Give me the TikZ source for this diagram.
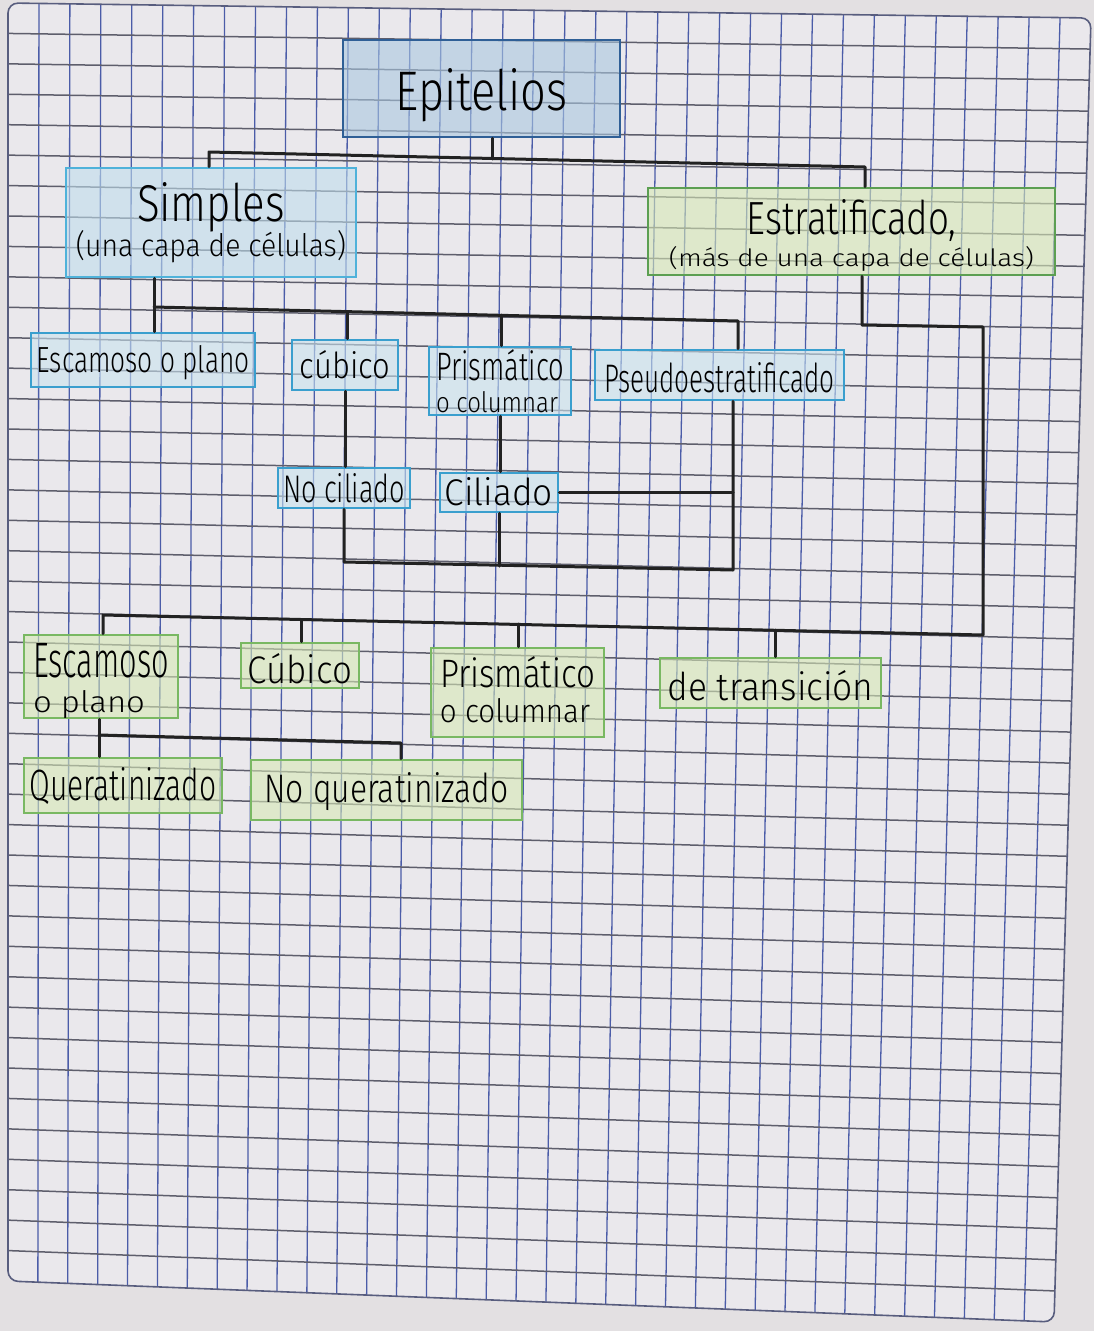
\documentclass[tikz,border=0pt]{standalone}
\usepackage{fontspec}
\usepackage{graphicx}
\usetikzlibrary{calc}
\IfFontExistsTF{Fira Sans Light}{\newfontfamily\handf{Fira Sans Light}}{\newfontfamily\handf{Fira Sans}}
\newcommand\hw[3]{\resizebox{#1pt}{#2pt}{\handf #3}}
\newcommand\onel[2]{\raisebox{-#1pt}[0pt][0pt]{#2}}
\newcommand\twol[4]{\raisebox{-#1pt}[0pt][0pt]{\vbox{\baselineskip=#2pt\lineskiplimit=-1000pt\lineskip=0pt\halign{\hfil##\hfil\cr#3\cr#4\cr}}}}
\newcommand\twoll[4]{\raisebox{-#1pt}[0pt][0pt]{\vbox{\baselineskip=#2pt\lineskiplimit=-1000pt\lineskip=0pt\halign{##\hfil\cr#3\cr#4\cr}}}}
\definecolor{paper}{HTML}{E3E0E2}
\definecolor{gridfill}{HTML}{EAE8EC}
\definecolor{vcol}{HTML}{4B5CA8}
\definecolor{hcol}{HTML}{5E5E6C}
\definecolor{epifill}{HTML}{A9C7E0}
\definecolor{epidraw}{HTML}{2F5F96}
\definecolor{simfill}{HTML}{BFDDEC}
\definecolor{simdraw}{HTML}{4FB2DA}
\definecolor{sfill}{HTML}{C9E3EF}
\definecolor{sdraw}{HTML}{3A9FCE}
\definecolor{gfill}{HTML}{D6E8B6}
\definecolor{gdraw}{HTML}{5C9F52}
\definecolor{g2draw}{HTML}{79B862}
\definecolor{ink}{HTML}{222222}
\tikzset{
  vline/.style={draw=vcol, line width=1.3pt},
  hline/.style={draw=hcol, line width=1.5pt},
  box/.style={rectangle, inner sep=0pt, line width=2.6pt, fill opacity=.6, text opacity=1},
  epibox/.style={box, draw=epidraw, fill=epifill},
  simbox/.style={box, draw=simdraw, fill=simfill},
  sbox/.style={box, draw=sdraw, fill=sfill},
  estbox/.style={box, draw=gdraw, fill=gfill},
  gbox/.style={box, draw=g2draw, fill=gfill},
  conn/.style={draw=ink, line width=3pt, line cap=round, line join=round},
}
\begin{document}
\begin{tikzpicture}[x=1pt,y=-1pt]
\useasboundingbox (0,0) rectangle (1094,1331);
\fill[paper] (0,0) rectangle (1094,1331);
% grid paper
\coordinate (TL) at (8,3);
\coordinate (TR) at (1091,18);
\coordinate (BR) at (1054,1322);
\coordinate (BL) at (8,1281);
\fill[gridfill, rounded corners=10pt] (TL) -- (TR) -- (BR) -- (BL) -- cycle;
\foreach \i in {1,...,34} \draw[vline] ($(TL)!\i/35!(TR)$) -- ($(BL)!\i/35!(BR)$);
\foreach \j in {1,...,41} \draw[hline] ($(TL)!\j/42!(BL)$) -- ($(TR)!\j/42!(BR)$);
\draw[draw=hcol!70!vcol, line width=1.6pt, rounded corners=10pt] (TL) -- (TR) -- (BR) -- (BL) -- cycle;

% boxes
\node[epibox, minimum width=277pt, minimum height=97pt] (epi) at (481.5,88.5) {\onel{21.5}{\hw{172}{42}{Epitelios}}};
\node[simbox, minimum width=290pt, minimum height=109pt] (simples) at (211,222.5) {\twol{33.5}{35}{\hw{148}{39}{Simples}}{\hw{270}{26}{(una capa de células)}}};
\node[estbox, minimum width=407pt, minimum height=87pt] (estrat) at (851.5,231.5) {\twol{34.5}{32}{\hw{210}{35}{Estratificado,}}{\hw{365}{20}{(más de una capa de células)}}};

\node[sbox, minimum width=224pt, minimum height=54pt] (s1) at (143,360) {\onel{12}{\hw{213}{27}{Escamoso o plano}}};
\node[sbox, minimum width=106pt, minimum height=50pt] (s2) at (345,365) {\onel{13}{\hw{90}{28}{cúbico}}};
\node[sbox, minimum width=142pt, minimum height=68pt] (s3) at (500,381) {\twoll{31}{32}{\hw{128}{31}{Prismático}}{\hw{122}{21}{o columnar}}};
\node[sbox, minimum width=249pt, minimum height=50pt] (s4) at (719.5,375) {\onel{17}{\hw{230}{30}{Pseudoestratificado}}};
\node[sbox, minimum width=132pt, minimum height=40pt] (nc) at (344,488) {\onel{14}{\hw{122}{29}{No ciliado}}};
\node[sbox, minimum width=118pt, minimum height=39pt] (ci) at (499,492.5) {\onel{12.5}{\hw{108}{28}{Ciliado}}};

\node[gbox, minimum width=154pt, minimum height=83pt] (e1) at (101,676.5) {\twoll{35.5}{35}{\hw{136}{34}{Escamoso}}{\hw{112}{22}{o plano}}};
\node[gbox, minimum width=118pt, minimum height=45pt] (e2) at (300,665.5) {\onel{17.5}{\hw{104}{30}{Cúbico}}};
\node[gbox, minimum width=173pt, minimum height=89pt] (e3) at (517.5,692.5) {\twoll{29.5}{35}{\hw{155}{31}{Prismático}}{\hw{150}{24}{o columnar}}};
\node[gbox, minimum width=221pt, minimum height=50pt] (e4) at (770.5,683) {\onel{17}{\hw{206}{30}{de transición}}};
\node[gbox, minimum width=198pt, minimum height=55pt] (q) at (123,785.5) {\onel{14.5}{\hw{187}{33}{Queratinizado}}};
\node[gbox, minimum width=271pt, minimum height=60pt] (nq) at (386.5,790) {\onel{12}{\hw{244}{30}{No queratinizado}}};

% connector coordinates
\coordinate (t0) at (492,159);
\coordinate (t1) at (209,152);
\coordinate (t2) at (865,167);
\coordinate (s0) at (154,307);
\coordinate (s5) at (738,321);
\coordinate (s2t) at (347,312);
\coordinate (s3t) at (501,315);
\coordinate (l1) at (345,562);
\coordinate (l2) at (733,570);
\coordinate (l3) at (499,566);
\coordinate (r1) at (862,325);
\coordinate (r2) at (983,327);
\coordinate (r3) at (983,635);
\coordinate (e0) at (103,615);
\coordinate (e2t) at (301,620);
\coordinate (e3t) at (518,624);
\coordinate (e4t) at (775,630);
\coordinate (k0) at (99,735);
\coordinate (k1) at (401,743);

% connectors
\draw[conn] (epi.south -| t0) -- (t0);
\draw[conn] (simples.north -| t1) -- (t1) -- (t2) -- (estrat.north -| t2);

\draw[conn] (simples.south -| s0) -- (s1.north -| s0);
\draw[conn] (s0) -- (s5) -- (s4.north -| s5);
\draw[conn] (s2t) -- (s2.north -| s2t);
\draw[conn] (s3t) -- (s3.north -| s3t);
\draw[conn] (s2.south) -- (nc.north -| s2.south);
\draw[conn] (s3.south) -- (ci.north -| s3.south);
\draw[conn] (nc.south) -- (nc.south |- l1) -- (l2) -- (s4.south -| l2);
\draw[conn] (ci.south) -- (ci.south |- l3);
\draw[conn] (ci.east) -- (ci.east -| l2);

\draw[conn] (estrat.south -| r1) -- (r1) -- (r2) -- (r3) -- (e0) -- (e1.north -| e0);
\draw[conn] (e2t) -- (e2.north -| e2t);
\draw[conn] (e3t) -- (e3.north -| e3t);
\draw[conn] (e4t) -- (e4.north -| e4t);
\draw[conn] (e1.south -| k0) -- (q.north -| k0);
\draw[conn] (k0) -- (k1) -- (nq.north -| k1);
\end{tikzpicture}
\end{document}
